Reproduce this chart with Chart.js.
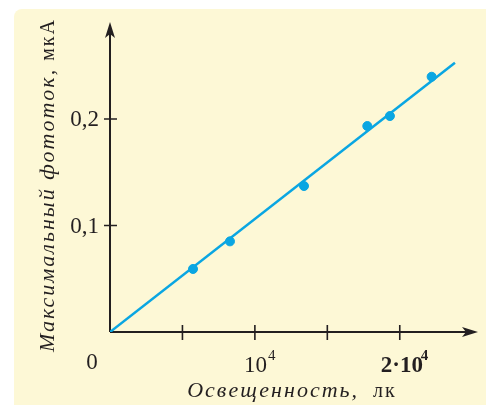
<!DOCTYPE html>
<html>
<head>
<meta charset="utf-8">
<script src="https://cdn.jsdelivr.net/npm/chart.js@4"></script>
<style>
  html, body { margin: 0; padding: 0; background: #fff; }
  #wrap { width: 486px; height: 405px; }
</style>
</head>
<body>
<div id="wrap"><canvas id="c" width="486" height="405"></canvas></div>
<script>
// measured points: illuminance (lx) vs max photocurrent (uA)
const illum = [5730, 8280, 13390, 17760, 19320, 22200];
const current = [0.0592, 0.0851, 0.1371, 0.1934, 0.2028, 0.2397];
// fitted straight line through the origin
const fitX = [0, 23810];
const fitY = [0, 0.2529];
const xTicks = [5000, 10000, 15000, 20000];
const yTicks = [0.1, 0.2];
const yTickLabels = ['0,1', '0,2'];

const ink = '#231f20';
const blue = '#0aa6e2';
const serif = '"Liberation Serif", "DejaVu Serif", serif';

const paperPlugin = {
    id: 'paper',
    beforeDraw(chart) {
        const ctx = chart.ctx;
        ctx.save();
        ctx.fillStyle = '#ffffff';
        ctx.fillRect(0, 0, chart.width, chart.height);
        ctx.fillStyle = '#fdf8d6';
        ctx.beginPath();
        ctx.roundRect(14, 9, chart.width - 14, chart.height - 9 + 10, [8, 0, 0, 0]);
        ctx.fill();
        ctx.restore();
    }
};

// draws a two-part title: italic words then upright unit
function drawTitle(ctx, italicPart, plainPart, cx, y) {
    ctx.letterSpacing = '2px';
    ctx.font = 'italic 22px ' + serif;
    const w1 = ctx.measureText(italicPart).width;
    ctx.font = '20px ' + serif;
    const w2 = ctx.measureText(plainPart).width;
    const sx = cx - (w1 + w2) / 2;
    ctx.font = 'italic 22px ' + serif;
    ctx.fillText(italicPart, sx, y);
    ctx.font = '20px ' + serif;
    ctx.fillText(plainPart, sx + w1, y);
    ctx.letterSpacing = '0px';
}

const axesPlugin = {
    id: 'arrowAxes',
    beforeDatasetsDraw(chart) {
        const ctx = chart.ctx;
        const xs = chart.scales.x, ys = chart.scales.y;
        const x0 = xs.getPixelForValue(0), y0 = ys.getPixelForValue(0);
        const xEnd = chart.chartArea.right, yEnd = chart.chartArea.top;
        ctx.save();
        ctx.strokeStyle = ink;
        ctx.fillStyle = ink;
        ctx.lineWidth = 2;
        // axis lines
        ctx.beginPath();
        ctx.moveTo(x0, y0); ctx.lineTo(xEnd - 8, y0);
        ctx.moveTo(x0, y0); ctx.lineTo(x0, yEnd + 8);
        ctx.stroke();
        // arrow heads
        ctx.beginPath();
        ctx.moveTo(xEnd, y0); ctx.lineTo(xEnd - 16, y0 - 5); ctx.lineTo(xEnd - 12, y0); ctx.lineTo(xEnd - 16, y0 + 5);
        ctx.closePath(); ctx.fill();
        ctx.beginPath();
        ctx.moveTo(x0, yEnd); ctx.lineTo(x0 - 5, yEnd + 16); ctx.lineTo(x0, yEnd + 12); ctx.lineTo(x0 + 5, yEnd + 16);
        ctx.closePath(); ctx.fill();
        // tick marks crossing the axes
        ctx.lineWidth = 1.6;
        ctx.beginPath();
        xTicks.forEach(v => {
            const p = xs.getPixelForValue(v);
            ctx.moveTo(p, y0 - 7); ctx.lineTo(p, y0 + 8);
        });
        yTicks.forEach(v => {
            const p = ys.getPixelForValue(v);
            ctx.moveTo(x0 - 6, p); ctx.lineTo(x0 + 7, p);
        });
        ctx.stroke();

        // tick labels
        ctx.font = '23px ' + serif;
        ctx.textBaseline = 'middle';
        ctx.textAlign = 'right';
        yTicks.forEach((v, i) => ctx.fillText(yTickLabels[i], x0 - 11, ys.getPixelForValue(v) + 1));
        ctx.textBaseline = 'alphabetic';
        ctx.textAlign = 'center';
        ctx.fillText('0', x0 - 18, y0 + 37);
        // 10^4
        let p = xs.getPixelForValue(10000);
        ctx.textAlign = 'left';
        ctx.fillText('10', p - 11, y0 + 40);
        ctx.font = '15px ' + serif;
        ctx.fillText('4', p + 13, y0 + 28);
        // 2·10^4 (bold)
        p = xs.getPixelForValue(20000);
        ctx.font = 'bold 23px ' + serif;
        ctx.fillText('2\u00b710', p - 19, y0 + 40);
        ctx.font = 'bold 15px ' + serif;
        ctx.fillText('4', p + 21, y0 + 28);

        // axis titles
        drawTitle(ctx, 'Освещенность,', '  лк', 292, 397);
        ctx.translate(54, 185);
        ctx.rotate(-Math.PI / 2);
        drawTitle(ctx, 'Максимальный фототок,', ' мкА', 0, 0);
        ctx.restore();
    }
};

new Chart(document.getElementById('c').getContext('2d'), {
    type: 'scatter',
    data: {
        datasets: [
            {
                label: 'fit',
                data: fitX.map((x, i) => ({ x: x, y: fitY[i] })),
                showLine: true,
                borderColor: blue,
                borderWidth: 2.5,
                pointRadius: 0,
                order: 2
            },
            {
                label: 'points',
                data: illum.map((x, i) => ({ x: x, y: current[i] })),
                backgroundColor: blue,
                borderColor: blue,
                pointRadius: 4.5,
                order: 1
            }
        ]
    },
    options: {
        responsive: false,
        animation: false,
        layout: { padding: { left: 110, right: 8, top: 22, bottom: 73 } },
        scales: {
            x: { type: 'linear', min: 0, max: 25400, display: false },
            y: { type: 'linear', min: 0, max: 0.2911, display: false }
        },
        plugins: { legend: { display: false }, tooltip: { enabled: false } }
    },
    plugins: [paperPlugin, axesPlugin]
});
</script>
</body>
</html>
